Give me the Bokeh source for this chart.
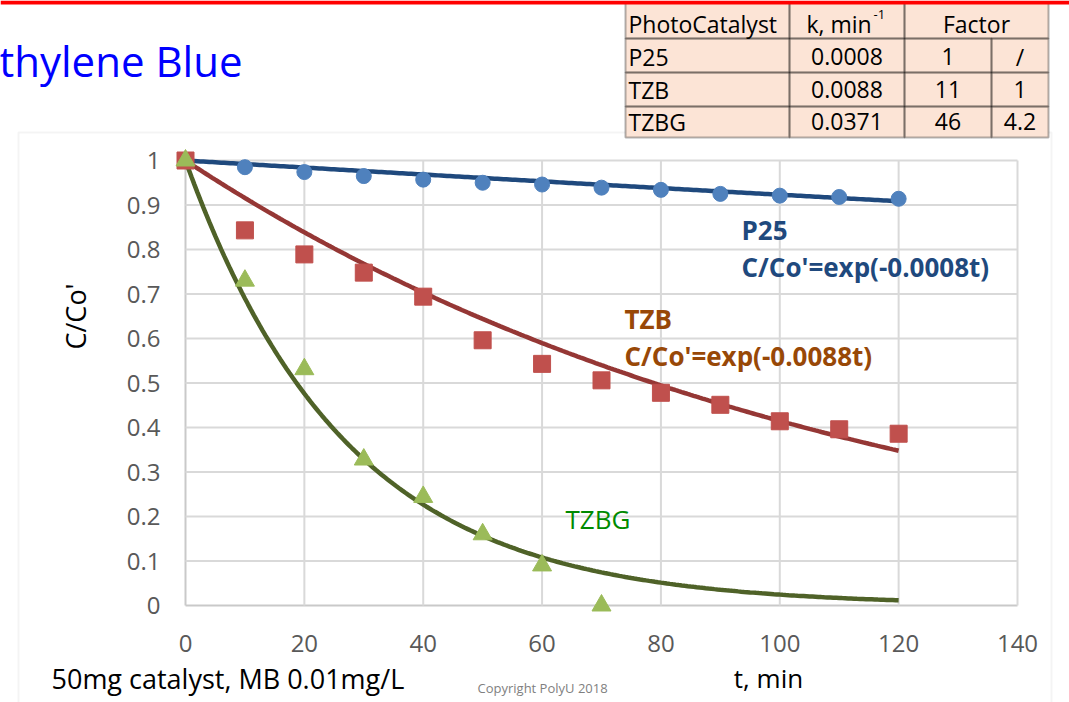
import numpy as np
from bokeh.plotting import figure
from bokeh.models import Range1d, FixedTicker, Label, BoxAnnotation, LinearAxis
from bokeh.embed import file_html
from bokeh.resources import INLINE

# ---------------- data ----------------
t_obs = [0, 10, 20, 30, 40, 50, 60, 70, 80, 90, 100, 110, 120]
p25_obs = [1.0, 0.985, 0.974, 0.965, 0.957, 0.950, 0.946, 0.939, 0.934, 0.925, 0.921, 0.918, 0.914]
tzb_obs = [1.0, 0.843, 0.789, 0.748, 0.694, 0.596, 0.543, 0.506, 0.478, 0.451, 0.414, 0.396, 0.386]
t_tzbg = [0, 10, 20, 30, 40, 50, 60, 70]
tzbg_obs = [1.0, 0.73, 0.531, 0.328, 0.244, 0.160, 0.090, 0.0]

catalysts = ["P25", "TZB", "TZBG"]
k_values = [0.0008, 0.0088, 0.0371]
k_labels = ["0.0008", "0.0088", "0.0371"]
factor_vs_p25 = ["1", "11", "46"]
factor_vs_tzb = ["/", "1", "4.2"]

x_ticks = [0, 20, 40, 60, 80, 100, 120, 140]
x_tick_labels = ["0", "20", "40", "60", "80", "100", "120", "140"]
y_ticks = [0, 0.1, 0.2, 0.3, 0.4, 0.5, 0.6, 0.7, 0.8, 0.9, 1]
y_tick_labels = ["0", "0.1", "0.2", "0.3", "0.4", "0.5", "0.6", "0.7", "0.8", "0.9", "1"]

t_fit = np.linspace(0, 120, 241)

# ---------------- layout (pixels) ----------------
FONT = "Open Sans"
W, H = 1069, 702
PX_LEFT, PX_RIGHT = 185, 1017     # plot area, canvas px
PX_TOP, PX_BOTTOM = 160, 605
X0, X1 = x_ticks[0], x_ticks[-1]
Y0, Y1 = y_ticks[0], y_ticks[-1]
sx = (PX_RIGHT - PX_LEFT) / (X1 - X0)
sy = (PX_BOTTOM - PX_TOP) / (Y1 - Y0)
x_range = Range1d(X0 - PX_LEFT / sx, X1 + (W - PX_RIGHT) / sx)
y_range = Range1d(Y0 - (H - PX_BOTTOM) / sy, Y1 + PX_TOP / sy)

p = figure(width=W, height=H, output_backend="svg", toolbar_location=None, title=None,
           x_range=x_range, y_range=y_range,
           x_axis_location=None, y_axis_location=None,
           min_border=0, min_border_left=0, min_border_right=0,
           min_border_top=0, min_border_bottom=0)
p.background_fill_color = "white"
p.border_fill_color = "white"
p.outline_line_color = None
p.xgrid.grid_line_color = None
p.ygrid.grid_line_color = None

GRID = "#D9D9D9"
# grid lines of the plot area
p.segment(x0=x_ticks[1:], y0=[Y0] * (len(x_ticks) - 1), x1=x_ticks[1:], y1=[Y1] * (len(x_ticks) - 1),
          line_color=GRID, line_width=2)
p.segment(x0=[X0] * (len(y_ticks) - 1), y0=y_ticks[1:], x1=[X1] * (len(y_ticks) - 1), y1=y_ticks[1:],
          line_color=GRID, line_width=2)

xaxis = LinearAxis(fixed_location=Y0, bounds=(X0, X1), ticker=FixedTicker(ticks=x_ticks),
                   major_label_overrides=dict(zip(x_ticks, x_tick_labels)),
                   major_label_standoff=29)
yaxis = LinearAxis(fixed_location=X0, bounds=(Y0, Y1), ticker=FixedTicker(ticks=y_ticks),
                   major_label_overrides=dict(zip(y_ticks, y_tick_labels)),
                   major_label_standoff=25)
for ax in (xaxis, yaxis):
    ax.level = "underlay"
    ax.axis_line_color = "#C9C9C9"
    ax.axis_line_width = 2
    ax.major_tick_out = 0
    ax.major_tick_in = 0
    ax.minor_tick_out = 0
    ax.minor_tick_in = 0
    ax.major_tick_line_color = None
    ax.minor_tick_line_color = None
    ax.major_label_text_font = FONT
    ax.major_label_text_font_size = "24px"
    ax.major_label_text_color = "#595959"
p.add_layout(xaxis, "below")
p.add_layout(yaxis, "left")

# fitted lines C/Co' = exp(-k t)
line_colors = ["#1F497D", "#953735", "#4F6228"]
for k, c in zip(k_values, line_colors):
    p.line(t_fit, np.exp(-k * t_fit), line_color=c, line_width=4.5)

# observations
p.scatter(t_obs, p25_obs, marker="circle", size=15, fill_color="#4F81BD", line_color="#4F81BD")
p.scatter(t_obs, tzb_obs, marker="square", size=17, fill_color="#C0504D", line_color="#C0504D")
p.scatter(t_tzbg, tzbg_obs, marker="triangle", size=19, fill_color="#9BBB59", line_color="#9BBB59")

BASE_SHIFT = 0.38  # em; label box offset relative to the wanted alphabetic baseline


def lab(x, y, text, size, color="black", align="left", style="normal"):
    """Place text whose alphabetic baseline is at canvas y."""
    p.add_layout(Label(x=x, y=y - BASE_SHIFT * size, x_units="canvas", y_units="canvas", text=text,
                       text_font=FONT, text_font_size="%dpx" % size, text_color=color,
                       text_align=align, text_baseline="alphabetic", text_font_style=style))


def box(l, r, t, b, fill, line, lw):
    p.add_layout(BoxAnnotation(left=l, right=r, top=t, bottom=b,
                               left_units="canvas", right_units="canvas",
                               top_units="canvas", bottom_units="canvas",
                               fill_color=fill, fill_alpha=1.0,
                               line_color=line, line_width=lw))


# chart area border
box(18, 1051, 132, 720, None, GRID, 2)

# series annotations
lab(741, 239, catalysts[0], 26, "#1F497D", style="bold")
lab(741, 276, "C/Co'=exp(-%st)" % k_labels[0], 26, "#1F497D", style="bold")
lab(624, 328, catalysts[1], 26, "#984807", style="bold")
lab(624, 365, "C/Co'=exp(-%st)" % k_labels[1], 26, "#984807", style="bold")
lab(565, 528, catalysts[2], 26, "#008A00")

# axis titles & notes
p.add_layout(Label(x=75, y=316, x_units="canvas", y_units="canvas", text="C/Co'",
                   text_font=FONT, text_font_size="27px", text_color="black",
                   text_align="center", text_baseline="middle", angle=np.pi / 2))
lab(768, 687, "t, min", 26, align="center")
lab(51, 688, "50mg catalyst, MB 0.01mg/L", 27)
lab(477, 692, "Copyright PolyU 2018", 13, "#7F7F7F")

# title (cut at left edge)
lab(242, 76, "thylene Blue", 42, "#0000FF", align="right")

# table
col_x = [625, 789, 904, 991, 1048]
row_y = [2, 38, 72, 106, 137]
PEACH = "#FCE4D6"

cells = [(col_x[0], col_x[1], row_y[0], row_y[1]),
         (col_x[1], col_x[2], row_y[0], row_y[1]),
         (col_x[2], col_x[4], row_y[0], row_y[1])]
for i in range(3):
    for j in range(4):
        cells.append((col_x[j], col_x[j + 1], row_y[i + 1], row_y[i + 2]))
# fills first, then borders so every rule stays at full width
box(col_x[0], col_x[-1], row_y[0], row_y[-1], PEACH, None, 0)
for (l, r, t, b) in cells:
    box(l, r, t, b, None, "black", 2)

TF = 23
lab(628, 32, "PhotoCatalyst", TF)
lab(806, 32, "k, min", TF)
lab(873, 19, "-1", 13)
lab((col_x[2] + col_x[4]) / 2, 32, "Factor", TF, align="center")
baselines = [65, 98, 130]
for i in range(3):
    yb = baselines[i]
    lab(628, yb, catalysts[i], TF)
    lab((col_x[1] + col_x[2]) / 2, yb, k_labels[i], TF, align="center")
    lab((col_x[2] + col_x[3]) / 2, yb, factor_vs_p25[i], TF, align="center")
    lab((col_x[3] + col_x[4]) / 2, yb, factor_vs_tzb[i], TF, align="center")

# red top rule
box(0, W, 0, 4, "#FF0000", None, 0)

open("out.html", "w").write(file_html(p, INLINE))
